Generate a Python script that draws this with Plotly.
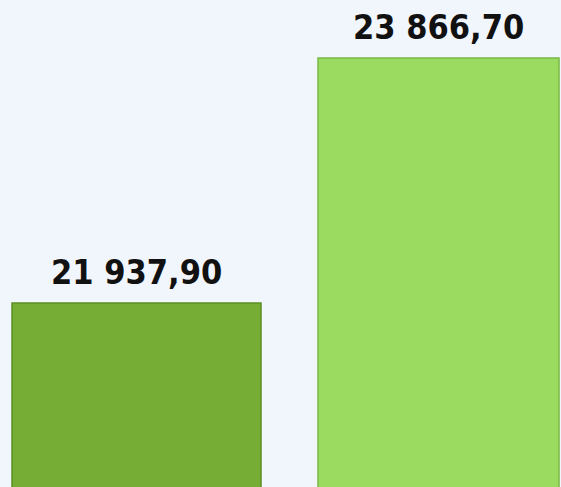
import plotly.graph_objects as go

categories = ["A", "B"]
values = [21937.90, 23866.70]
labels = ["21 937,90", "23 866,70"]
bar_colors = ["#76ae35", "#9bdb60"]
edge_colors = ["#5b8f24", "#78b846"]
bar_widths = [0.8245, 0.798]

fig = go.Figure()
fig.add_trace(go.Bar(
    x=categories,
    y=values,
    marker=dict(color=bar_colors, line=dict(color=edge_colors, width=1.5)),
    width=bar_widths,
    hoverinfo="skip",
))

for c, v, t in zip(categories, values, labels):
    fig.add_annotation(
        x=c, y=v, text=t, showarrow=False,
        xanchor="center", yanchor="bottom", yshift=9,
        font=dict(family="DejaVu Sans Condensed, DejaVu Sans", size=34,
                  color="#111111", weight="bold"),
    )

fig.update_layout(
    width=561, height=487,
    margin=dict(l=0, r=0, t=0, b=0),
    paper_bgcolor="#f1f6fc",
    plot_bgcolor="rgba(0,0,0,0)",
    showlegend=False,
    xaxis=dict(visible=False, range=[-0.452, 1.4056]),
    yaxis=dict(visible=False, range=[20489, 24323]),
)

fig.write_html(
    "out.html",
    config={"displayModeBar": False, "staticPlot": True},
    post_script="document.body.style.margin='0';document.body.style.background='#f1f6fc';",
)
